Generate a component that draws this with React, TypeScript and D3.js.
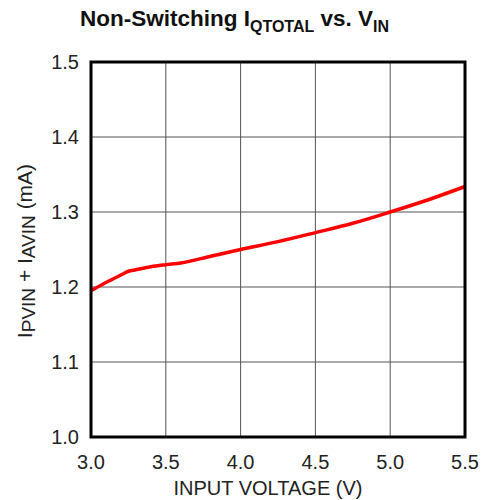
import React from "react";
import * as d3 from "d3";

const voltage = [3.0, 3.1, 3.2, 3.25, 3.3, 3.4, 3.5, 3.6, 3.8, 4.0, 4.25, 4.5, 4.75, 5.0, 5.25, 5.5];
const current = [1.195, 1.206, 1.216, 1.221, 1.223, 1.227, 1.2297, 1.232, 1.241, 1.25, 1.2605, 1.2725, 1.285, 1.3, 1.316, 1.334];
const xTicks = [3.0, 3.5, 4.0, 4.5, 5.0, 5.5];
const yTicks = [1.0, 1.1, 1.2, 1.3, 1.4, 1.5];

const W = 482, H = 500;
const left = 91, right = 465, top = 62, bottom = 437;

export default function App() {
  const x = d3.scaleLinear().domain([3.0, 5.5]).range([left, right]);
  const y = d3.scaleLinear().domain([1.0, 1.5]).range([bottom, top]);
  const line = d3.line<number>().x((_, i) => x(voltage[i])).y((d) => y(d)).curve(d3.curveMonotoneX);
  const font = "Arial, 'Liberation Sans', Helvetica, sans-serif";
  return (
    <svg width={W} height={H} style={{ position: "absolute", left: 0, top: 0, background: "#fff" }} fontFamily={font}>
      <text x={80} y={26} fontSize={22.5} fontWeight="bold" fill="#111">
        Non-Switching I<tspan fontSize={16} dy={6}>QTOTAL</tspan>
        <tspan dy={-6}> vs. V</tspan>
        <tspan fontSize={16} dy={6}>IN</tspan>
      </text>
      {xTicks.slice(1, -1).map((t) => (
        <line key={"gx" + t} x1={x(t)} x2={x(t)} y1={top} y2={bottom} stroke="#555" strokeWidth={1} />
      ))}
      {yTicks.slice(1, -1).map((t) => (
        <line key={"gy" + t} x1={left} x2={right} y1={y(t)} y2={y(t)} stroke="#555" strokeWidth={1} />
      ))}
      <path d={line(current) || ""} fill="none" stroke="#ff0000" strokeWidth={3.5} />
      <rect x={left} y={top} width={right - left} height={bottom - top} fill="none" stroke="#000" strokeWidth={3} />
      {yTicks.map((t) => (
        <text key={"ty" + t} x={79} y={y(t) + 7} fontSize={20} textAnchor="end" fill="#222">
          {t.toFixed(1)}
        </text>
      ))}
      {xTicks.map((t) => (
        <text key={"tx" + t} x={x(t)} y={469} fontSize={20} textAnchor="middle" fill="#222">
          {t.toFixed(1)}
        </text>
      ))}
      <text x={268} y={495} fontSize={20} textAnchor="middle" fill="#222">INPUT VOLTAGE (V)</text>
      <text transform="translate(32,251) rotate(-90)" fontSize={21} textAnchor="middle" fill="#222">
        I<tspan fontSize={19} dy={3}>PVIN</tspan>
        <tspan dy={-3}> + I</tspan>
        <tspan fontSize={19} dy={3}>AVIN</tspan>
        <tspan dy={-3}> (mA)</tspan>
      </text>
    </svg>
  );
}
